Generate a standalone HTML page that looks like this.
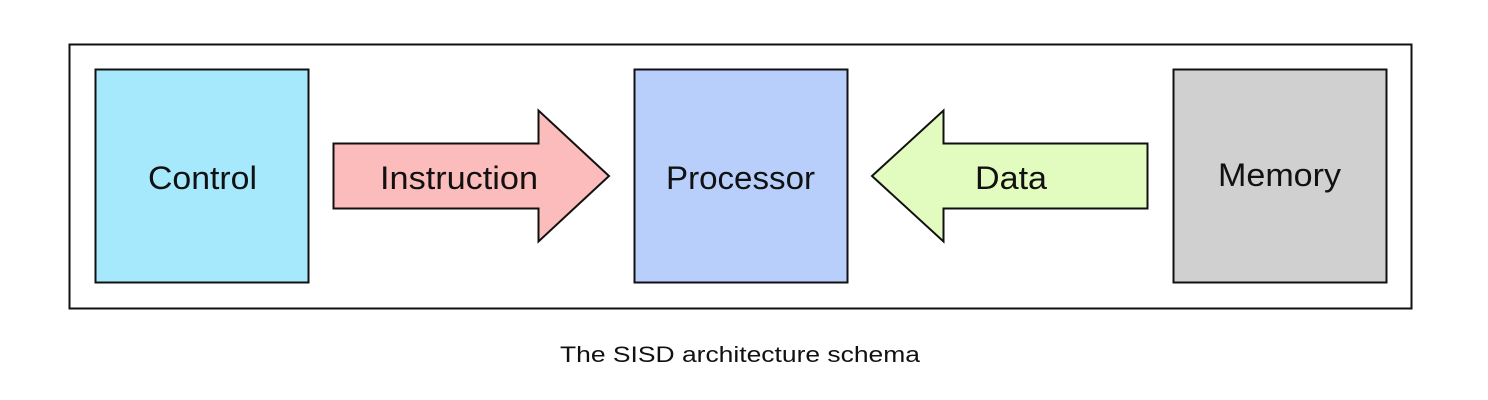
<!DOCTYPE html>
<html><head><style>
html,body{margin:0;padding:0;background:#fff;width:1488px;height:400px;overflow:hidden}
svg text{font-family:"Liberation Sans",sans-serif;fill:#111}
</style></head><body>
<svg width="1488" height="400" xmlns="http://www.w3.org/2000/svg">
<rect x="69.5" y="44.5" width="1342" height="264" fill="#fff" stroke="#111" stroke-width="2"/>
<rect x="95.5" y="69.5" width="213" height="213" fill="#a6e9fd" stroke="#111" stroke-width="2"/>
<rect x="634.5" y="69.5" width="213" height="213" fill="#b9cffb" stroke="#111" stroke-width="2"/>
<rect x="1173.5" y="69.5" width="213" height="213" fill="#d0d0d0" stroke="#111" stroke-width="2"/>
<polygon points="333.5,143.5 538.5,143.5 538.5,110.5 609,176 538.5,241.5 538.5,208.5 333.5,208.5" fill="#fdbcbc" stroke="#111" stroke-width="2"/>
<polygon points="1147.5,143.5 943.5,143.5 943.5,110.5 872,176 943.5,241.5 943.5,208.5 1147.5,208.5" fill="#e2fcbf" stroke="#111" stroke-width="2"/>
<text x="148" y="189" font-size="32" textLength="109" lengthAdjust="spacingAndGlyphs">Control</text>
<text x="380" y="189" font-size="32" textLength="158" lengthAdjust="spacingAndGlyphs">Instruction</text>
<text x="666" y="189" font-size="32" textLength="149" lengthAdjust="spacingAndGlyphs">Processor</text>
<text x="975" y="189" font-size="32" textLength="72" lengthAdjust="spacingAndGlyphs">Data</text>
<text x="1218" y="186" font-size="32" textLength="123" lengthAdjust="spacingAndGlyphs">Memory</text>
<text x="560" y="362" font-size="22" textLength="360" lengthAdjust="spacingAndGlyphs">The SISD architecture schema</text>
</svg>
</body></html>
